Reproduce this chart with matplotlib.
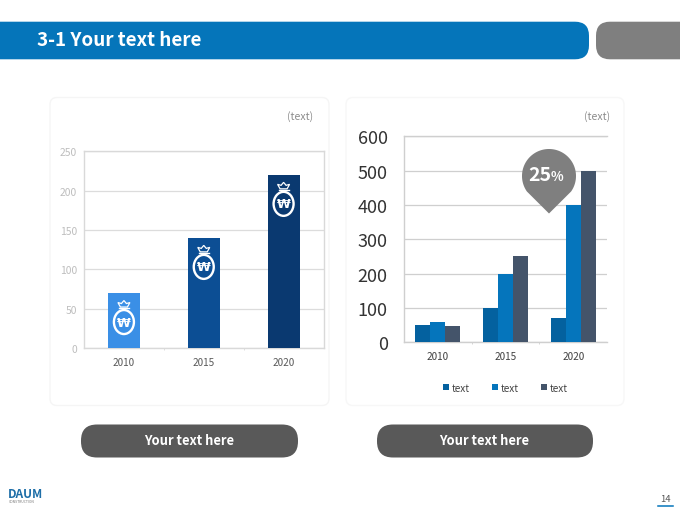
import matplotlib
matplotlib.use("Agg")
import matplotlib.pyplot as plt
from matplotlib.patches import FancyBboxPatch, Ellipse, Polygon
import numpy as np

W, H = 680, 510
FONT = ["Noto Sans CJK KR", "DejaVu Sans"]
plt.rcParams["font.family"] = FONT

# data
years = ["2010", "2015", "2020"]
left_values = [70, 140, 220]
left_colors = ["#3A8FE6", "#0C4E94", "#0A3970"]
left_ticks = [0, 50, 100, 150, 200, 250]
series_names = ["text", "text", "text"]
series_a = [50, 100, 70]
series_b = [60, 200, 400]
series_c = [47, 250, 500]
series_colors = ["#04619F", "#0575BC", "#44546A"]
right_ticks = [0, 100, 200, 300, 400, 500, 600]

fig = plt.figure(figsize=(W / 100, H / 100), dpi=100, facecolor="white")


def px_axes(x0, y0, x1, y1, **kw):
    return fig.add_axes([x0 / W, 1 - y1 / H, (x1 - x0) / W, (y1 - y0) / H], **kw)


# backdrop in pixel coordinates
bg = fig.add_axes([0, 0, 1, 1], zorder=0)
bg.set_xlim(0, W); bg.set_ylim(H, 0); bg.axis("off")


def rrect(ax, x0, y0, x1, y1, r, **kw):
    p = FancyBboxPatch((x0 + r, y0 + r), x1 - x0 - 2 * r, y1 - y0 - 2 * r,
                       boxstyle=f"round,pad={r},rounding_size={r}", **kw)
    ax.add_patch(p)


rrect(bg, -30, 22.7, 589, 60.3, 14, fc="#0575BA", ec="none")
rrect(bg, 596, 22.7, 720, 60.3, 14, fc="#7F7F7F", ec="none")
bg.text(37, 40.5, "3-1 Your text here", color="white", fontsize=13.6, fontweight="bold",
        va="center", ha="left")
rrect(bg, 50, 98.5, 329, 406.5, 7, fc="white", ec="#F5F5F5", lw=1)
rrect(bg, 346, 98.5, 624, 406.5, 7, fc="white", ec="#F7F7F7", lw=1)
bg.text(313, 117, "(text)", color="#8C8C8C", fontsize=7.6, ha="right", va="center")
bg.text(610, 117, "(text)", color="#8C8C8C", fontsize=7.6, ha="right", va="center")
rrect(bg, 81, 425.5, 298, 458.5, 16, fc="#595959", ec="none")
rrect(bg, 377, 425.5, 593, 458.5, 16, fc="#595959", ec="none")
bg.text(189, 441, "Your text here", color="white", fontsize=9.3, fontweight="bold",
        ha="center", va="center")
bg.text(484, 441, "Your text here", color="white", fontsize=9.3, fontweight="bold",
        ha="center", va="center")
bg.text(8, 498, "DAUM", color="#1F6FA8", fontsize=8.6, fontweight="bold", ha="left",
        va="baseline")
bg.text(8.5, 500, "CONSTRUCTION", color="#777777", fontsize=2.4, ha="left", va="top")
bg.text(665, 500, "14", color="#555555", fontsize=6.8, ha="center", va="center")
bg.plot([658, 673], [506.5, 506.5], color="#0575BA", lw=1.1)

# left chart
ax1 = px_axes(84, 152.2, 323.5, 349.2, zorder=2)
ax1.patch.set_alpha(0)
xl = np.arange(len(years))
ax1.bar(xl, left_values, width=0.4, color=left_colors, zorder=3)
ax1.set_xlim(-0.5, 2.5)
ax1.set_ylim(0, 250)
ax1.set_yticks(left_ticks)
ax1.set_xticks(xl, years)
ax1.set_xticks([0.5, 1.5], minor=True)
ax1.grid(axis="y", color="#DCDCDC", lw=0.9)
ax1.set_axisbelow(True)
for s in ax1.spines.values():
    s.set_color("#D9D9D9"); s.set_linewidth(1)
ax1.tick_params(axis="y", length=0, labelsize=7.4, labelcolor="#BDBDBD", pad=5)
ax1.tick_params(axis="x", length=0, labelsize=7.2, labelcolor="#595959", pad=6)
ax1.tick_params(axis="x", which="minor", length=1.5, color="#D9D9D9", direction="out")

# right chart
ax2 = px_axes(403.8, 137.2, 607.2, 343.2, zorder=2)
ax2.patch.set_alpha(0)
xr = np.arange(len(years))
bw = 0.22
h = []
for i, vals in enumerate([series_a, series_b, series_c]):
    h.append(ax2.bar(xr + (i - 1) * bw, vals, width=bw, color=series_colors[i],
                     label=series_names[i], zorder=3))
ax2.set_xlim(-0.5, 2.5)
ax2.set_ylim(0, 600)
ax2.set_yticks(right_ticks)
ax2.set_xticks(xr, years)
ax2.set_xticks([0.5, 1.5], minor=True)
ax2.grid(axis="y", color="#CFCFCF", lw=0.9)
ax2.set_axisbelow(True)
for k, s in ax2.spines.items():
    s.set_color("#CFCFCF"); s.set_linewidth(1)
ax2.spines["right"].set_visible(False)
ax2.tick_params(axis="y", length=0, labelsize=13, labelcolor="#333333", pad=11.5)
ax2.tick_params(axis="x", length=0, labelsize=7.2, labelcolor="#404040", pad=6)
ax2.tick_params(axis="x", which="minor", length=1.5, color="#CFCFCF", direction="out")
leg = ax2.legend(handles=h, ncol=3, frameon=False, loc="center",
                 bbox_to_anchor=(0.5, -0.22), fontsize=7.2, handlelength=0.6,
                 handleheight=0.6, handletextpad=0.3, columnspacing=2.2,
                 labelcolor="#404040")

# overlay: icons and callout
ov = fig.add_axes([0, 0, 1, 1], zorder=5)
ov.set_xlim(0, W); ov.set_ylim(H, 0); ov.axis("off"); ov.patch.set_alpha(0)
fig.canvas.draw()
for x, v in zip(xl, left_values):
    disp = ax1.transData.transform((x, v))
    cx, top = disp[0], H - disp[1]
    cy = top + 29
    ov.add_patch(Ellipse((cx, cy), 20, 24, fc="none", ec="white", lw=1.7))
    ov.text(cx, cy, "₩", color="white", fontsize=9, fontweight="bold", ha="center",
            va="center", family="DejaVu Sans")
    # tie of the bag
    ov.add_patch(Polygon([(cx - 6, top + 9.5), (cx - 2.5, top + 10.5), (cx, top + 7.5),
                          (cx + 2.5, top + 10.5), (cx + 6, top + 9.5), (cx + 3.5, top + 14),
                          (cx - 3.5, top + 14)], closed=True, fc="none", ec="white", lw=0.9))
    ov.plot([cx - 5, cx + 5], [top + 15, top + 15], color="white", lw=1)

pcx, pcy, pr, tip = 549, 177, 27, 214.5
# teardrop: circle arc over the top, then straight sides to the tip
ang = np.radians(np.linspace(-35, 215, 120))
pts = [(pcx + pr * np.cos(a), pcy - pr * np.sin(a)) for a in ang] + [(pcx, tip)]
ov.add_patch(Polygon(pts, closed=True, fc="#7F7F7F", ec="none"))
ov.text(pcx + 2, pcy - 1, "25", color="white", fontsize=14, fontweight="bold",
        ha="right", va="center")
ov.text(pcx + 2, pcy, "%", color="white", fontsize=9.5, fontweight="bold",
        ha="left", va="center")

fig.savefig("out.png", dpi=100, facecolor="white")
